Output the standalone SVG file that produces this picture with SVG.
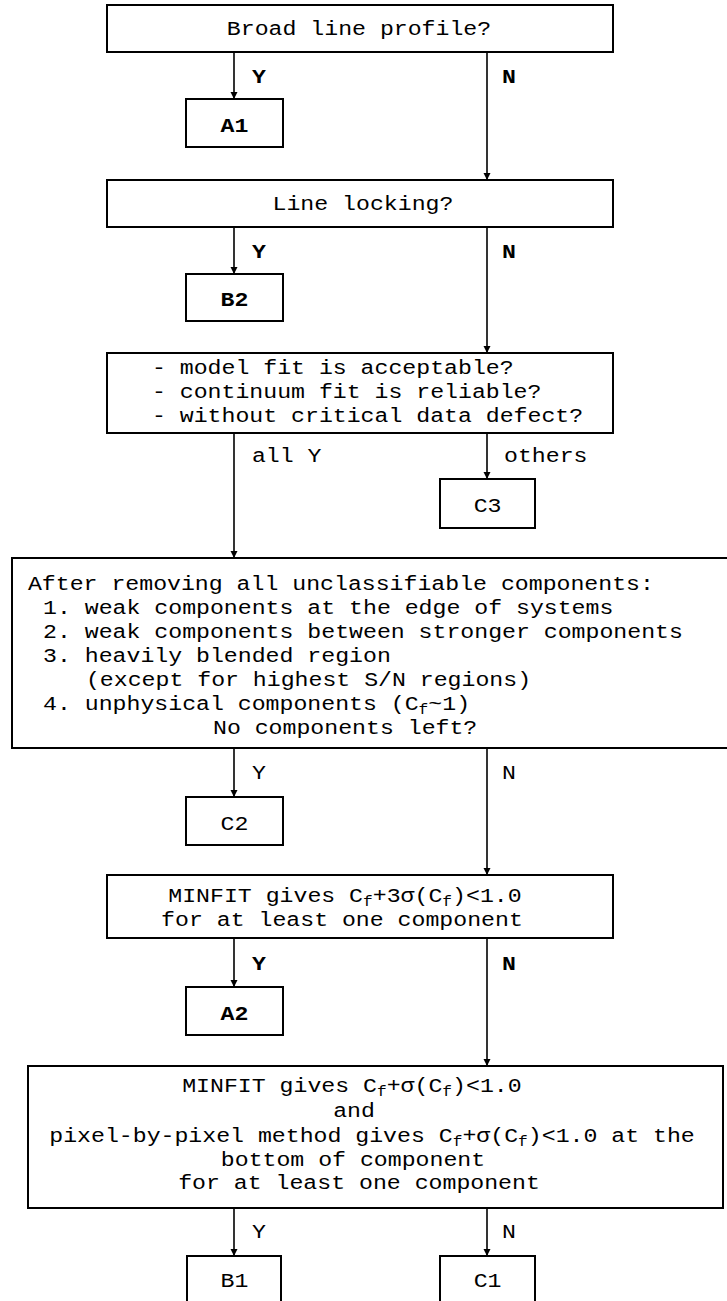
<svg xmlns="http://www.w3.org/2000/svg" width="727" height="1301" viewBox="0 0 727 1301">
<style>
  .box { fill: #fff; stroke: #000; stroke-width: 2; }
  .t { font-family: "Liberation Mono", "DejaVu Sans Mono", monospace; font-size: 20px; fill: #000; transform: scale(1.16, 1); }
  .m { text-anchor: middle; }
  .b { font-weight: bold; }
  .sub { font-size: 14px; }
  .edge { stroke: #000; stroke-width: 1.6; fill: none; marker-end: url(#arr); }
</style>
<defs>
  <marker id="arr" markerUnits="userSpaceOnUse" markerWidth="8" markerHeight="10" refX="7" refY="5" orient="auto">
    <path d="M0,1.5 L7,5 L0,8.5 Z" fill="#000"/>
  </marker>
</defs>
<rect width="727" height="1301" fill="#fff"/>

<g id="connectors">
  <line class="edge" x1="234" y1="52" x2="234" y2="99"/>
  <line class="edge" x1="487" y1="52" x2="487" y2="180"/>
  <line class="edge" x1="234" y1="227" x2="234" y2="274"/>
  <line class="edge" x1="487" y1="227" x2="487" y2="353"/>
  <line class="edge" x1="234" y1="433" x2="234" y2="558"/>
  <line class="edge" x1="487" y1="433" x2="487" y2="479"/>
  <line class="edge" x1="234" y1="748" x2="234" y2="797"/>
  <line class="edge" x1="487" y1="748" x2="487" y2="875"/>
  <line class="edge" x1="234" y1="938" x2="234" y2="987"/>
  <line class="edge" x1="487" y1="938" x2="487" y2="1066"/>
  <line class="edge" x1="234" y1="1208" x2="234" y2="1256"/>
  <line class="edge" x1="487" y1="1208" x2="487" y2="1256"/>
  <text class="t b" x="217.2" y="83">Y</text>
  <text class="t b" x="432.8" y="83">N</text>
  <text class="t b" x="217.2" y="258">Y</text>
  <text class="t b" x="432.8" y="258">N</text>
  <text class="t" x="217.2" y="462">all Y</text>
  <text class="t" x="434.5" y="462">others</text>
  <text class="t" x="217.2" y="779">Y</text>
  <text class="t" x="432.8" y="779">N</text>
  <text class="t b" x="217.2" y="970">Y</text>
  <text class="t b" x="432.8" y="970">N</text>
  <text class="t" x="217.2" y="1238">Y</text>
  <text class="t" x="432.8" y="1238">N</text>
</g>

<g id="q1">
  <rect class="box" x="107" y="5" width="506" height="47"/>
  <text class="t m" x="309.5" y="35">Broad line profile?</text>
</g>
<g id="A1">
  <rect class="box" x="186" y="99" width="97" height="48"/>
  <text class="t m b" x="202.2" y="132">A1</text>
</g>
<g id="q2">
  <rect class="box" x="107" y="180" width="506" height="47"/>
  <text class="t m" x="312.9" y="210">Line locking?</text>
</g>
<g id="B2">
  <rect class="box" x="186" y="274" width="97" height="47"/>
  <text class="t m b" x="202.2" y="306">B2</text>
</g>
<g id="q3">
  <rect class="box" x="107" y="353" width="506" height="80"/>
  <text class="t" x="131" y="374">- model fit is acceptable?</text>
  <text class="t" x="131" y="398">- continuum fit is reliable?</text>
  <text class="t" x="131" y="422">- without critical data defect?</text>
</g>
<g id="C3">
  <rect class="box" x="440" y="479" width="95" height="49"/>
  <text class="t m" x="420.3" y="512">C3</text>
</g>
<g id="q4">
  <rect class="box" x="12" y="558" width="718" height="190"/>
  <text class="t" x="24.1" y="590">After removing all unclassifiable components:</text>
  <text class="t" x="37.1" y="614">1. weak components at the edge of systems</text>
  <text class="t" x="37.1" y="638">2. weak components between stronger components</text>
  <text class="t" x="37.1" y="662">3. heavily blended region</text>
  <text class="t" x="74.1" y="686">(except for highest S/N regions)</text>
  <text class="t" x="37.1" y="710">4. unphysical components (C<tspan class="sub" dy="4">f</tspan><tspan dy="-4">~1)</tspan></text>
  <text class="t" x="183.6" y="734">No components left?</text>
</g>
<g id="C2">
  <rect class="box" x="186" y="797" width="97" height="48"/>
  <text class="t m" x="202.2" y="830">C2</text>
</g>
<g id="q5">
  <rect class="box" x="107" y="875" width="506" height="63"/>
  <text class="t m" x="297.4" y="902">MINFIT gives C<tspan class="sub" dy="4">f</tspan><tspan dy="-4">+3σ(C</tspan><tspan class="sub" dy="4">f</tspan><tspan dy="-4">)&lt;1.0</tspan></text>
  <text class="t m" x="294.8" y="926">for at least one component</text>
</g>
<g id="A2">
  <rect class="box" x="186" y="987" width="97" height="48"/>
  <text class="t m b" x="202.2" y="1020">A2</text>
</g>
<g id="q6">
  <rect class="box" x="28" y="1066" width="695" height="142"/>
  <text class="t m" x="303.4" y="1092">MINFIT gives C<tspan class="sub" dy="4">f</tspan><tspan dy="-4">+σ(C</tspan><tspan class="sub" dy="4">f</tspan><tspan dy="-4">)&lt;1.0</tspan></text>
  <text class="t m" x="305.2" y="1117">and</text>
  <text class="t m" x="320.7" y="1142">pixel-by-pixel method gives C<tspan class="sub" dy="4">f</tspan><tspan dy="-4">+σ(C</tspan><tspan class="sub" dy="4">f</tspan><tspan dy="-4">)&lt;1.0 at the</tspan></text>
  <text class="t m" x="304.3" y="1166">bottom of component</text>
  <text class="t m" x="309.5" y="1189">for at least one component</text>
</g>
<g id="B1">
  <rect class="box" x="187" y="1256" width="94" height="60"/>
  <text class="t m" x="202.2" y="1287">B1</text>
</g>
<g id="C1">
  <rect class="box" x="440" y="1256" width="95" height="60"/>
  <text class="t m" x="420.3" y="1287">C1</text>
</g>
</svg>
